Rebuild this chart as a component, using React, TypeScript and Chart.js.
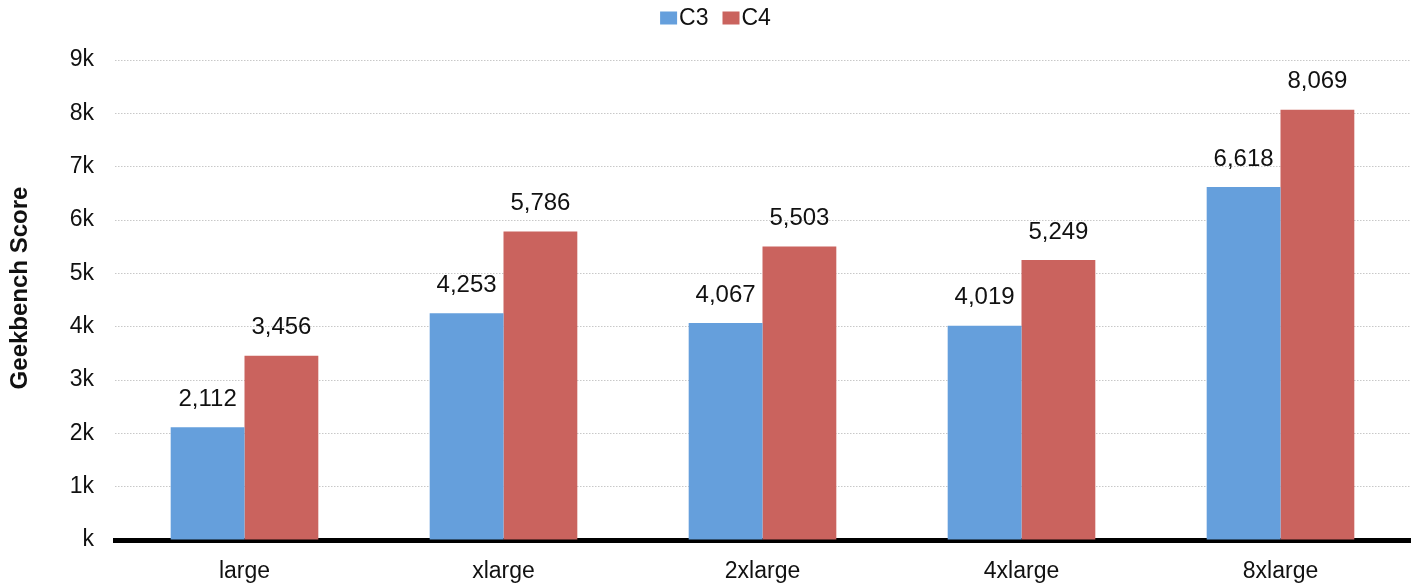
import React, { useEffect, useRef } from "react";
import { Chart, registerables } from "chart.js";

Chart.register(...registerables);

const categories = ["large", "xlarge", "2xlarge", "4xlarge", "8xlarge"];
const c3Values = [2112, 4253, 4067, 4019, 6618];
const c4Values = [3456, 5786, 5503, 5249, 8069];
const yTicks = [0, 1000, 2000, 3000, 4000, 5000, 6000, 7000, 8000, 9000];
const seriesNames = ["C3", "C4"];
const seriesColors = ["#659fdc", "#ca635e"];
const yTitle = "Geekbench Score";

const FONT = "'Liberation Sans', Arial, sans-serif";

const valueLabels = {
  id: "valueLabels",
  afterDatasetsDraw(chart: any) {
    const ctx = chart.ctx;
    ctx.save();
    ctx.font = `24px ${FONT}`;
    ctx.fillStyle = "#111";
    ctx.textAlign = "center";
    ctx.textBaseline = "middle";
    chart.data.datasets.forEach((ds: any, i: number) => {
      const meta = chart.getDatasetMeta(i);
      meta.data.forEach((bar: any, j: number) => {
        const v = ds.data[j];
        ctx.fillText(v.toLocaleString("en-US"), bar.x, bar.y - 28);
      });
    });
    ctx.restore();
  },
};

const customLegend = {
  id: "customLegend",
  afterDraw(chart: any) {
    const ctx = chart.ctx;
    ctx.save();
    ctx.font = `23px ${FONT}`;
    ctx.textBaseline = "middle";
    ctx.textAlign = "left";
    const boxW = 17;
    const boxH = 13;
    const gap = 2;
    const itemGap = 14;
    const widths = chart.data.datasets.map(
      (ds: any) => boxW + gap + ctx.measureText(ds.label).width
    );
    const total = widths.reduce((a: number, b: number) => a + b, 0) + itemGap * (widths.length - 1);
    let x = chart.width / 2 - total / 2 + 6;
    const cy = 18;
    chart.data.datasets.forEach((ds: any, i: number) => {
      ctx.fillStyle = ds.backgroundColor;
      ctx.fillRect(x, cy - boxH / 2, boxW, boxH);
      ctx.fillStyle = "#111";
      ctx.fillText(ds.label, x + boxW + gap, cy + 1);
      x += widths[i] + itemGap;
    });
    // y-axis title
    ctx.font = `bold 24px ${FONT}`;
    ctx.textAlign = "center";
    ctx.textBaseline = "middle";
    ctx.translate(20, 288);
    ctx.rotate(-Math.PI / 2);
    ctx.fillText(yTitle, 0, 0);
    ctx.restore();
  },
};

export default function App() {
  const ref = useRef<HTMLCanvasElement>(null);
  useEffect(() => {
    document.body.style.margin = "0";
    const chart = new Chart(ref.current!, {
      type: "bar",
      data: {
        labels: categories,
        datasets: seriesNames.map((name, i) => ({
          label: name,
          data: i === 0 ? c3Values : c4Values,
          backgroundColor: seriesColors[i],
        })),
      },
      options: {
        responsive: false,
        animation: false,
        layout: { padding: { left: 0, right: 9, top: 60, bottom: 0 } },
        datasets: { bar: { barPercentage: 1, categoryPercentage: 0.57 } } as any,
        plugins: {
          legend: { display: false },
          tooltip: { enabled: false },
        },
        scales: {
          x: {
            grid: { display: false },
            border: { display: true, color: "#000", width: 5 },
            ticks: { font: { family: FONT, size: 23 }, color: "#111", padding: 10 },
            afterFit: (s: any) => {
              s.height = 46;
            },
          },
          y: {
            min: 0,
            max: 9000,
            afterBuildTicks: (s: any) => {
              s.ticks = yTicks.map((v) => ({ value: v }));
            },
            ticks: {
              font: { family: FONT, size: 23 },
              color: "#111",
              padding: 21,
              callback: (v: any) => (v === 0 ? "k" : `${v / 1000}k`),
            },
            grid: {
              color: "#c8c8c8",
              lineWidth: 1,
              drawTicks: false,
            },
            border: { display: false, dash: [1.5, 1.5] } as any,
            title: { display: false },
            afterFit: (s: any) => {
              s.width = 115;
            },
          },
        },
      },
      plugins: [valueLabels, customLegend],
    });
    return () => chart.destroy();
  }, []);
  return <canvas ref={ref} width={1419} height={586} />;
}
